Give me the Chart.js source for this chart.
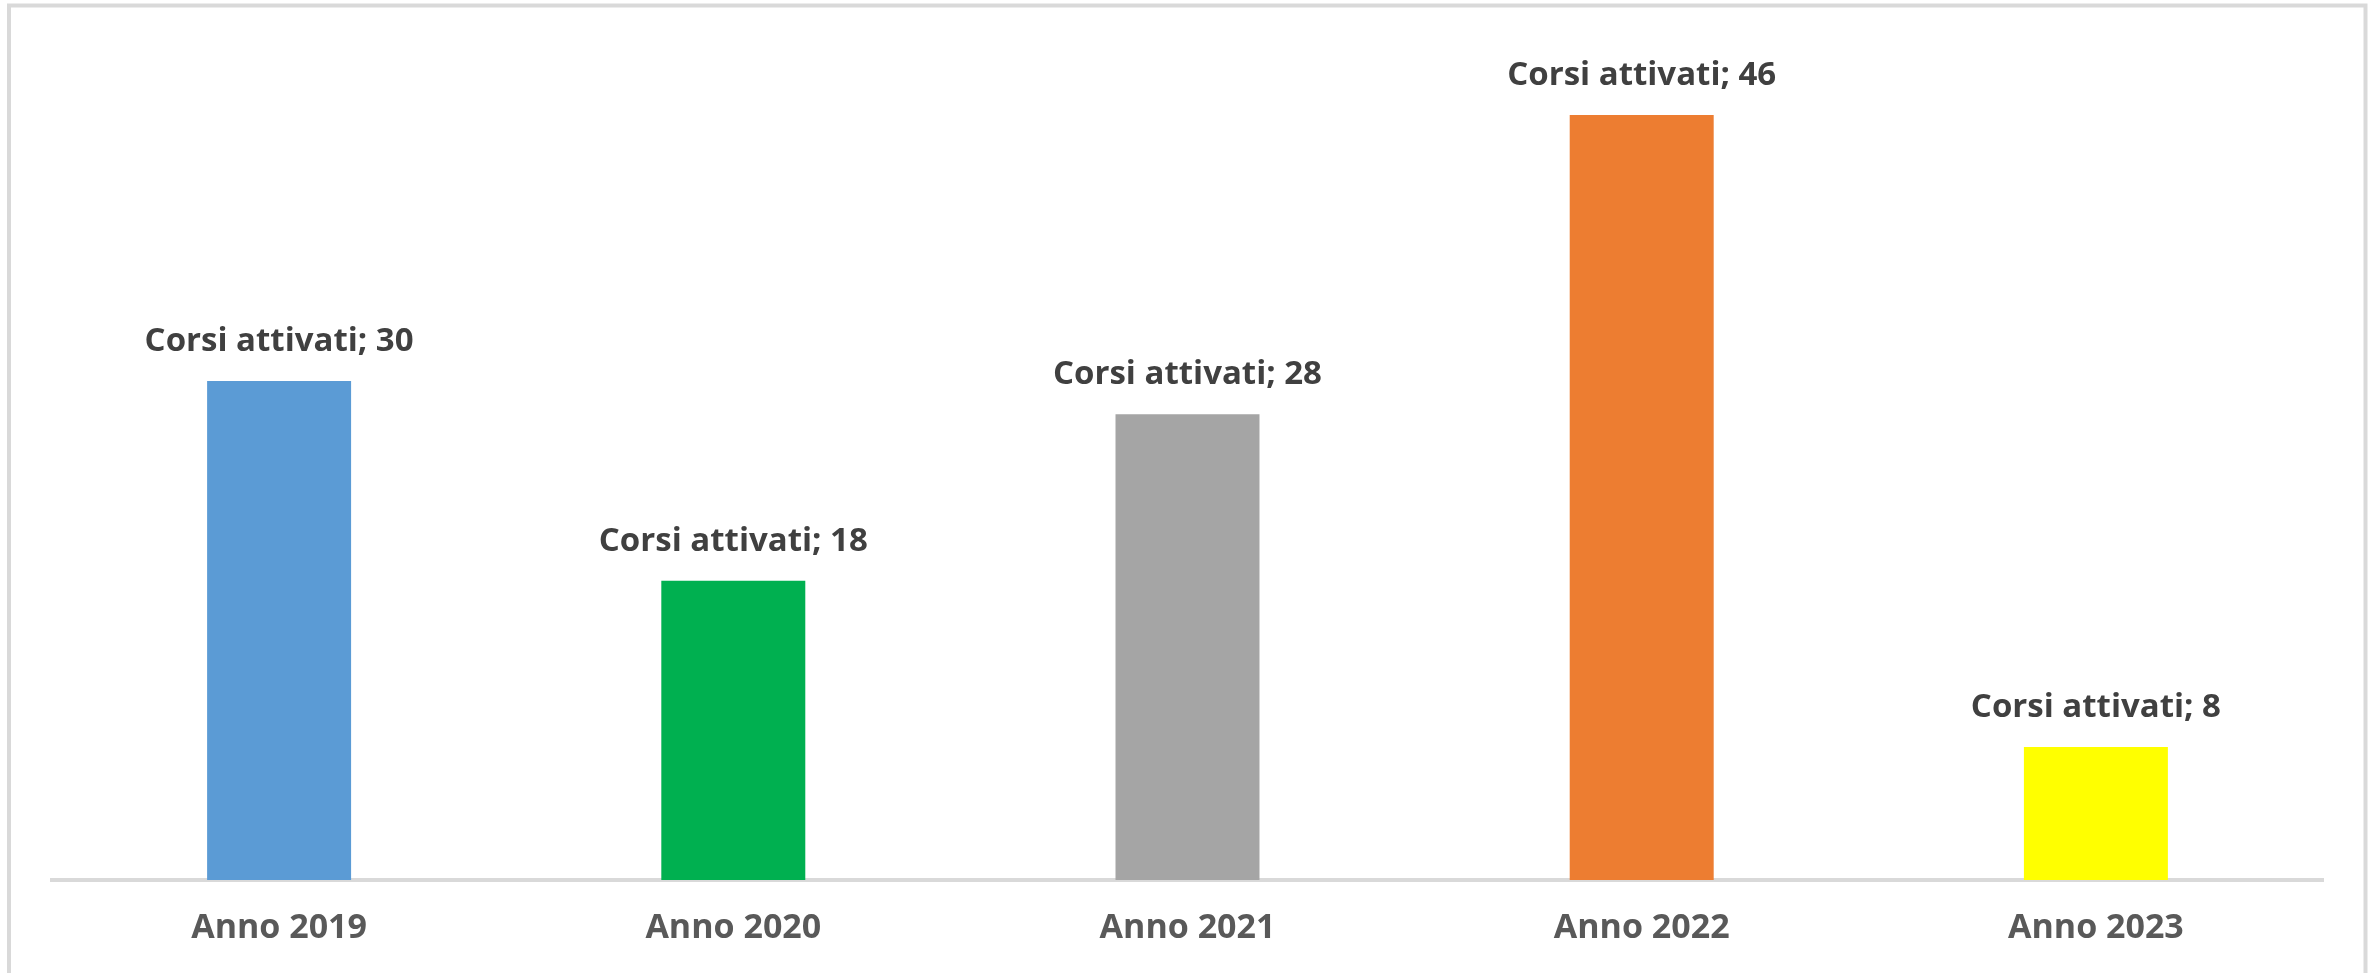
<!DOCTYPE html>
<html>
<head>
<meta charset="utf-8">
<script src="https://cdn.jsdelivr.net/npm/chart.js@4/dist/chart.umd.min.js"></script>
<style>
  html, body { margin: 0; padding: 0; background: #fff; }
  #wrap { width: 2374px; height: 973px; position: relative; }
</style>
</head>
<body>
<div id="wrap"><canvas id="corsi" width="2374" height="973"></canvas></div>
<script>
// data
var anni = ["Anno 2019", "Anno 2020", "Anno 2021", "Anno 2022", "Anno 2023"];
var corsiAttivati = [30, 18, 28, 46, 8];
var colori = ["#5B9BD5", "#00B050", "#A5A5A5", "#ED7D31", "#FFFF00"];
var nomeSerie = "Corsi attivati";

// frame round the whole chart
var cornice = {
  id: "cornice",
  beforeDraw: function (c) {
    var ctx = c.ctx;
    ctx.save();
    ctx.strokeStyle = "#D9D9D9";
    ctx.lineWidth = 4;
    ctx.beginPath();
    ctx.moveTo(9, 980);
    ctx.lineTo(9, 5.5);
    ctx.lineTo(2365.5, 5.5);
    ctx.lineTo(2365.5, 980);
    ctx.stroke();
    ctx.restore();
  }
};

// "Corsi attivati; 30" above each bar
var etichette = {
  id: "etichette",
  afterDatasetsDraw: function (c) {
    var ctx = c.ctx;
    var meta = c.getDatasetMeta(0);
    ctx.save();
    ctx.font = "bold 33px 'Open Sans'";
    ctx.fillStyle = "#404040";
    ctx.textAlign = "center";
    ctx.textBaseline = "alphabetic";
    meta.data.forEach(function (bar, i) {
      ctx.fillText(nomeSerie + "; " + corsiAttivati[i], bar.x, bar.y - 30);
    });
    ctx.restore();
  }
};

var chart = document.getElementById("corsi").getContext("2d");
var grafico = new Chart(chart, {
  type: "bar",
  data: {
    labels: anni,
    datasets: [{
      label: nomeSerie,
      data: corsiAttivati,
      backgroundColor: colori,
      borderWidth: 0,
      categoryPercentage: 1,
      barPercentage: 0.317
    }]
  },
  options: {
    responsive: false,
    animation: false,
    devicePixelRatio: 1,
    layout: { padding: { left: 52, right: 51, top: 48.5, bottom: 0 } },
    plugins: {
      legend: { display: false },
      tooltip: { enabled: false }
    },
    scales: {
      x: {
        grid: { display: false, drawTicks: false },
        border: { display: true, color: "#D9D9D9", width: 4 },
        ticks: {
          color: "#595959",
          padding: 28,
          font: { family: "'Open Sans'", size: 34, weight: "bold" }
        },
        afterFit: function (s) { s.height = 93; }
      },
      y: {
        display: false,
        min: 0,
        max: 50
      }
    }
  },
  plugins: [cornice, etichette]
});
</script>
</body>
</html>
